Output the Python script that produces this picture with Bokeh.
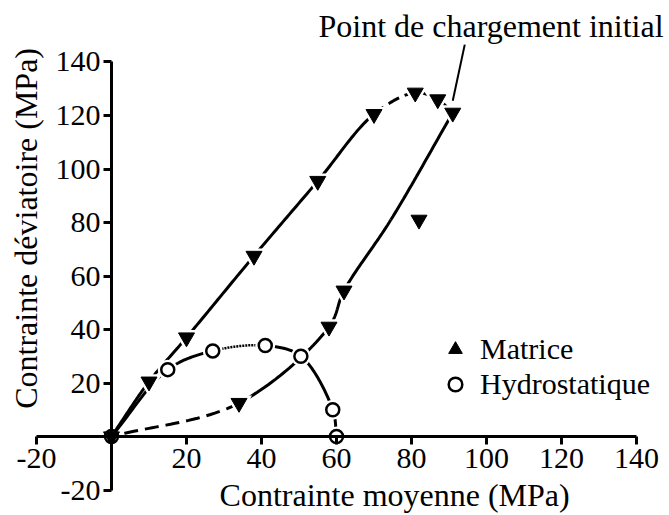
import numpy as np
from bokeh.plotting import figure
from bokeh.models import Range1d, FixedTicker, Label, Legend, LegendItem
from bokeh.embed import file_html
from bokeh.resources import INLINE

# ---------------- data ----------------
# Matrice : chargement (montée) puis déchargement
charge_x = [0, 10, 20, 38, 55, 70, 81, 87, 91]
charge_y = [0, 20.5, 37, 67.5, 95.5, 120.5, 128.5, 126, 121]
decharge_x = [82, 62, 58, 34]
decharge_y = [81, 54.5, 41, 12.5]
# tendance du déchargement (courbe lissée)
decharge_trend_x = [91, 74.5, 62, 58, 34, 0]
decharge_trend_y = [121, 81, 54.5, 41, 12.5, 0]
# Hydrostatique
hydro_x = [0, 15, 27, 41, 50.5, 59, 60]
hydro_y = [0, 25, 32, 34, 30, 10, 0]

x_ticks = [-20, 20, 40, 60, 80, 100, 120, 140]
y_ticks = [-20, 20, 40, 60, 80, 100, 120, 140]
tick_text = {-20: "-20"}
axis_bounds = (-20, 140)

# line styles for each curve segment (styles, not data)
charge_dash = ["solid", "solid", "solid", "solid", "solid", "12 6", "solid", "solid"]
decharge_dash = ["solid", "solid", "solid", "solid", "14 7"]
hydro_dash = ["solid", "solid", "2 1", "solid", "solid", "solid"]

FONT = "Liberation Serif"
SX, SY = 3.75, 2.675  # px per data unit, used only for the spline parametrisation


def spline_segments(xs, ys, n=30, alpha=0.5):
    """Centripetal Catmull-Rom curve through the points, one array per segment."""
    P = np.column_stack([np.asarray(xs, float) * SX, np.asarray(ys, float) * SY])
    P = np.vstack([2 * P[0] - P[1], P, 2 * P[-1] - P[-2]])
    segs = []
    for i in range(1, len(P) - 2):
        p0, p1, p2, p3 = P[i - 1], P[i], P[i + 1], P[i + 2]

        def tj(ti, a, b):
            return ti + max(np.hypot(*(b - a)), 1e-6) ** alpha

        t0 = 0.0
        t1 = tj(t0, p0, p1)
        t2 = tj(t1, p1, p2)
        t3 = tj(t2, p2, p3)
        t = np.linspace(t1, t2, n)[:, None]
        A1 = (t1 - t) / (t1 - t0) * p0 + (t - t0) / (t1 - t0) * p1
        A2 = (t2 - t) / (t2 - t1) * p1 + (t - t1) / (t2 - t1) * p2
        A3 = (t3 - t) / (t3 - t2) * p2 + (t - t2) / (t3 - t2) * p3
        B1 = (t2 - t) / (t2 - t0) * A1 + (t - t0) / (t2 - t0) * A2
        B2 = (t3 - t) / (t3 - t1) * A2 + (t - t1) / (t3 - t1) * A3
        C = (t2 - t) / (t2 - t1) * B1 + (t - t1) / (t2 - t1) * B2
        segs.append((C[:, 0] / SX, C[:, 1] / SY))
    return segs


W, H = 669, 515
p = figure(width=W, height=H,
           x_range=Range1d(-29.6, 148.8), y_range=Range1d(-29.53, 162.99),
           output_backend="svg", toolbar_location=None, min_border=0)
p.outline_line_color = None
p.grid.visible = False
p.background_fill_color = "white"

for ax, ticks in ((p.xaxis, x_ticks), (p.yaxis, y_ticks)):
    ax.fixed_location = 0
    ax.bounds = axis_bounds
    ax.ticker = FixedTicker(ticks=ticks)
    ax.major_label_overrides = tick_text
    ax.axis_line_width = 3
    ax.axis_line_color = "black"
    ax.major_tick_line_width = 3
    ax.major_tick_line_color = "black"
    ax.major_tick_out = 8
    ax.major_tick_in = 0
    ax.minor_tick_line_color = None
    ax.major_label_text_font = FONT
    ax.major_label_text_font_size = "30px"
    ax.major_label_text_color = "black"
p.xaxis.major_label_standoff = 4
p.yaxis.major_label_standoff = 3

LW = 3
# curves
for (sx, sy), d in zip(spline_segments(charge_x, charge_y), charge_dash):
    p.line(sx, sy, line_color="black", line_width=LW, line_dash=d)
for (sx, sy), d in zip(spline_segments(decharge_trend_x, decharge_trend_y), decharge_dash):
    p.line(sx, sy, line_color="black", line_width=LW, line_dash=d)
for (sx, sy), d in zip(spline_segments(hydro_x, hydro_y), hydro_dash):
    p.line(sx, sy, line_color="black", line_width=LW if d == "solid" else 2.5, line_dash=d)

# legend key for "Matrice" (up-pointing triangle), hidden under the origin markers
r_key = p.scatter(charge_x[:1], charge_y[:1], marker="triangle", size=1, color="black")

# white halos around markers (gaps in the lines)
p.scatter(charge_x[1:] + decharge_x, charge_y[1:] + decharge_y, marker="inverted_triangle",
          size=26, fill_color="white", line_color=None)
p.scatter(hydro_x[1:], hydro_y[1:], marker="circle", size=20, fill_color="white", line_color=None)

# markers
r_h = p.scatter(hydro_x, hydro_y, marker="circle", size=13, fill_color="white",
                line_color="black", line_width=2.5)
p.scatter(charge_x + decharge_x, charge_y + decharge_y, marker="inverted_triangle",
          size=16, fill_color="black", line_color="black")

# leader line for the annotation, from the last loading point
lx, ly = charge_x[-1], charge_y[-1]
p.segment(x0=[lx + 3.2], y0=[ly + 25.5], x1=[lx], y1=[ly + 4.5], line_color="black", line_width=2)

p.add_layout(Label(x=101.2, y=153.6, text="Point de chargement initial", text_font=FONT,
                   text_font_size="32px", text_align="center", text_baseline="alphabetic",
                   text_color="black"))
p.add_layout(Label(x=75.5, y=-21.8, text="Contrainte moyenne (MPa)", text_font=FONT,
                   text_font_size="32px", text_align="center", text_baseline="alphabetic",
                   text_color="black"))
p.add_layout(Label(x=-22.9, y=77.8, text="Contrainte déviatoire (MPa)", text_font=FONT,
                   text_font_size="32px", text_align="center", text_baseline="alphabetic",
                   angle=np.pi / 2, text_color="black"))

legend = Legend(items=[LegendItem(label="Matrice", renderers=[r_key]),
                       LegendItem(label="Hydrostatique", renderers=[r_h])],
                location=(438, 114), orientation="vertical",
                glyph_width=34, glyph_height=34, label_standoff=8, spacing=1,
                padding=0, margin=0, border_line_color=None, background_fill_alpha=0,
                label_text_font=FONT, label_text_font_size="30px", label_text_color="black")
p.add_layout(legend)

open("out.html", "w").write(file_html(p, INLINE))
